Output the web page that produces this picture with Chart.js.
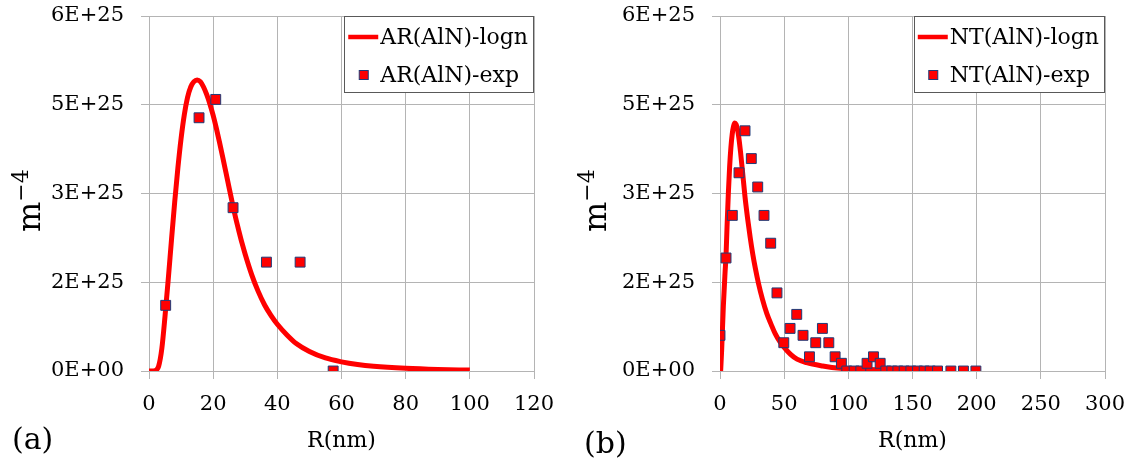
<!DOCTYPE html>
<html>
<head>
<meta charset="utf-8">
<script src="https://cdn.jsdelivr.net/npm/chart.js@4.4.1/dist/chart.umd.min.js"></script>
<style>
  html, body { margin: 0; padding: 0; background: #fff; }
  #wrap { position: relative; width: 1133px; height: 464px; }
  canvas { position: absolute; top: 0; }
  #chartA { left: 0; }
  #chartB { left: 566px; }
</style>
</head>
<body>
<div id="wrap">
  <canvas id="chartA" width="566" height="464"></canvas>
  <canvas id="chartB" width="567" height="464"></canvas>
</div>
<script>
// AR(AlN) - fitted log-normal distribution and measured points
const arLognR = [0, 1, 2, 3, 4, 5, 6, 7, 8, 9, 10, 11, 12, 13, 14, 15, 16, 17, 18, 19,
                 20, 21, 22, 23, 24, 25, 26, 27, 28, 29, 30, 32, 34, 36, 38, 40, 43, 46, 50,
                 55, 60, 65, 70, 80, 90, 100];
const arLognN = [0, 0, 0.01e25, 0.08e25, 0.38e25, 0.93e25, 1.55e25, 2.21e25, 2.85e25, 3.43e25,
                 3.93e25, 4.33e25, 4.62e25, 4.8e25, 4.89e25, 4.92e25, 4.89e25, 4.8e25, 4.67e25, 4.51e25,
                 4.32e25, 4.1e25, 3.86e25, 3.61e25, 3.35e25, 3.09e25, 2.83e25, 2.59e25, 2.37e25, 2.16e25,
                 1.97e25, 1.63e25, 1.35e25, 1.12e25, 0.94e25, 0.79e25, 0.61e25, 0.46e25, 0.33e25,
                 0.22e25, 0.155e25, 0.11e25, 0.08e25, 0.045e25, 0.025e25, 0.015e25];
const arExpR = [5.2, 15.6, 20.8, 26.2, 36.6, 47.1, 57.4];
const arExpN = [1.11e25, 4.28e25, 4.59e25, 2.76e25, 1.84e25, 1.84e25, 0];

// NT(AlN) - fitted log-normal distribution and measured points
const ntLognR = [0.5, 1.3, 2.6, 3.9, 4.7, 5.5, 6.5, 7.5, 8.5, 9.5, 10.5, 11.5, 12.5, 13.5, 14.5,
                 16, 17.5, 19.5, 21.5, 23.5, 25.5, 27.5, 30, 33, 36.5, 40, 43, 46.5, 50, 55, 60,
                 67.5, 80, 93.5, 106.5, 125, 130];
const ntLognN = [0, 0.36e25, 1.09e25, 1.65e25, 1.95e25, 2.45e25, 3.0e25, 3.45e25, 3.78e25, 4.0e25,
                 4.13e25, 4.19e25, 4.17e25, 4.1e25, 3.97e25, 3.7e25, 3.38e25, 2.94e25, 2.58e25, 2.26e25,
                 1.98e25, 1.74e25, 1.48e25, 1.22e25, 0.97e25, 0.78e25, 0.63e25, 0.5e25, 0.4e25, 0.28e25,
                 0.2e25, 0.14e25, 0.085e25, 0.045e25, 0.03e25, 0.02e25, 0.015e25];
const ntExpR = [0, 4.7, 9.6, 14.8, 19.5, 24.4, 29.4, 34.3, 39.5, 44.4,
                49.7, 54.6, 59.8, 64.7, 69.7, 74.6, 79.8, 84.8, 89.7, 94.6,
                98.8, 104.5, 109.7, 114.6, 119.6, 124.8, 129.2, 133.9, 138.6, 143.5,
                148.7, 153.9, 159.1, 163.8, 169.5, 179.9, 189.7, 199.4];
const ntExpN = [0.603e25, 1.91e25, 2.63e25, 3.35e25, 4.06e25, 3.59e25, 3.11e25, 2.63e25, 2.16e25, 1.32e25,
                0.478e25, 0.72e25, 0.957e25, 0.603e25, 0.24e25, 0.478e25, 0.72e25, 0.478e25, 0.24e25, 0.13e25,
                0, 0, 0, 0.13e25, 0.24e25, 0.13e25, 0, 0, 0, 0,
                0, 0, 0, 0, 0, 0, 0, 0];

// y tick text as printed on the axis (1.5E+25 steps rounded to one digit)
const yTickLabels = ['0E+00', '2E+25', '3E+25', '5E+25', '6E+25'];

const FONT = '"DejaVu Serif", serif';
const RED = '#ff0000';
const NAVY = '#1f3b78';
const GRID = '#b4b4b4';

function pairs(xs, ys) {
  return xs.map((x, i) => ({ x: x, y: ys[i] }));
}

// legend box, rotated y title with superscript, and panel letter
function decorations(panelLetter, letterX, letterY) {
  return {
    id: 'decorations',
    afterDraw(chart) {
      const ctx = chart.ctx;
      const area = chart.chartArea;
      ctx.save();

      // legend in the top-right corner of the plot area
      ctx.font = '22px ' + FONT;
      const sets = chart.data.datasets;
      const textW = Math.max(...sets.map(d => ctx.measureText(d.label).width));
      const boxW = 4 + 30 + 2 + textW + 6;
      const boxH = 77;
      const x0 = area.right - boxW;
      const y0 = area.top;
      ctx.fillStyle = '#fff';
      ctx.fillRect(x0, y0, boxW, boxH);
      ctx.strokeStyle = '#595959';
      ctx.lineWidth = 1;
      ctx.strokeRect(Math.round(x0) + 0.5, Math.round(y0) + 0.5, Math.round(boxW) - 1, boxH - 1);

      const rows = [y0 + 21, y0 + 59];
      sets.forEach((d, i) => {
        const cy = rows[i];
        if (d.showLine) {
          ctx.strokeStyle = d.borderColor;
          ctx.lineWidth = 4.5;
          ctx.beginPath();
          ctx.moveTo(x0 + 4, cy);
          ctx.lineTo(x0 + 34, cy);
          ctx.stroke();
        } else {
          ctx.fillStyle = d.backgroundColor;
          ctx.strokeStyle = d.borderColor;
          ctx.lineWidth = 1;
          ctx.fillRect(x0 + 15, cy - 4.5, 9, 9);
          ctx.strokeRect(x0 + 15, cy - 4.5, 9, 9);
        }
        ctx.fillStyle = '#000';
        ctx.textAlign = 'left';
        ctx.textBaseline = 'middle';
        ctx.fillText(d.label, x0 + 36, cy + 1);
      });

      // y title: m^-4
      ctx.save();
      ctx.translate(40, 232);
      ctx.rotate(-Math.PI / 2);
      ctx.fillStyle = '#000';
      ctx.textAlign = 'left';
      ctx.textBaseline = 'alphabetic';
      ctx.font = '32px ' + FONT;
      ctx.fillText('m', 0, 0);
      const mw = ctx.measureText('m').width;
      ctx.font = '22px ' + FONT;
      ctx.fillText('\u22124', mw, -12);
      ctx.restore();

      // panel letter
      ctx.font = '30px ' + FONT;
      ctx.fillStyle = '#000';
      ctx.textAlign = 'left';
      ctx.textBaseline = 'middle';
      ctx.fillText(panelLetter, letterX, letterY);

      ctx.restore();
    }
  };
}

function makeChart(canvasId, opts) {
  return new Chart(document.getElementById(canvasId), {
    type: 'scatter',
    data: {
      datasets: [{
        label: opts.lineLabel,
        data: pairs(opts.lineR, opts.lineN),
        showLine: true,
        borderColor: RED,
        backgroundColor: RED,
        borderWidth: 5,
        pointRadius: 0,
        cubicInterpolationMode: 'monotone',
        order: 1
      }, {
        label: opts.expLabel,
        data: pairs(opts.expR, opts.expN),
        showLine: false,
        pointStyle: 'rect',
        pointRadius: 7,
        backgroundColor: RED,
        borderColor: NAVY,
        borderWidth: 1,
        order: 0
      }]
    },
    options: {
      responsive: false,
      animation: false,
      devicePixelRatio: 1,
      layout: { padding: { left: 0, top: 16, right: opts.padRight, bottom: 10 } },
      plugins: { legend: { display: false }, tooltip: { enabled: false } },
      scales: {
        x: {
          type: 'linear',
          min: 0,
          max: opts.xMax,
          ticks: {
            stepSize: opts.xStep,
            padding: 13,
            color: '#000',
            font: { family: FONT, size: 21 }
          },
          grid: { color: GRID, lineWidth: 1, tickLength: 8 },
          border: { color: GRID },
          title: {
            display: true,
            text: 'R(nm)',
            color: '#000',
            padding: 0,
            font: { family: FONT, size: 22 }
          },
          afterFit(scale) {
            scale.height = 83;
            scale.paddingLeft = 0;
            scale.paddingRight = 0;
          }
        },
        y: {
          type: 'linear',
          min: 0,
          max: 6e25,
          ticks: {
            stepSize: 1.5e25,
            padding: 17,
            color: '#000',
            font: { family: FONT, size: 21 },
            callback: (value, index) => yTickLabels[index]
          },
          grid: { color: GRID, lineWidth: 1, tickLength: 8 },
          border: { color: GRID },
          afterFit(scale) {
            scale.width = opts.axisWidth;
            scale.paddingTop = 0;
            scale.paddingBottom = 0;
          }
        }
      }
    },
    plugins: [decorations(opts.letter, opts.letterX, opts.letterY)]
  });
}

makeChart('chartA', {
  lineLabel: 'AR(AlN)-logn', expLabel: 'AR(AlN)-exp',
  lineR: arLognR, lineN: arLognN, expR: arExpR, expN: arExpN,
  xMax: 120, xStep: 20, axisWidth: 149, padRight: 32,
  letter: '(a)', letterX: 12, letterY: 441
});

makeChart('chartB', {
  lineLabel: 'NT(AlN)-logn', expLabel: 'NT(AlN)-exp',
  lineR: ntLognR, lineN: ntLognN, expR: ntExpR, expN: ntExpN,
  xMax: 300, xStep: 50, axisWidth: 154, padRight: 28,
  letter: '(b)', letterX: 18, letterY: 445
});
</script>
</body>
</html>
